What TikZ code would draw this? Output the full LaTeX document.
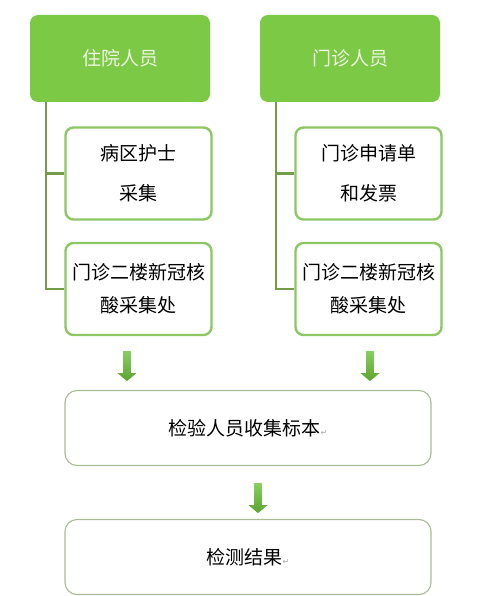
\documentclass[tikz,border=0pt]{standalone}
\usepackage{fontspec}
\setmainfont{Noto Sans CJK SC}
\newfontfamily\symfont{DejaVu Sans}
\usetikzlibrary{shapes.arrows}
\definecolor{headgreen}{HTML}{7BC944}
\definecolor{headtext}{HTML}{EEF8E4}
\definecolor{childedge}{HTML}{8DC763}
\definecolor{trunkgreen}{HTML}{729C48}
\definecolor{bigedge}{HTML}{A9BC93}
\definecolor{arrowgreen}{HTML}{6CC13A}
\newcommand{\parmark}{{\symfont\fontsize{8}{8}\selectfont\color{gray!70}↵}}
\tikzset{
  headbox/.style={fill=headgreen, rounded corners=8pt, minimum width=180pt,
    minimum height=87pt, text=headtext, font=\fontsize{19}{23}\selectfont},
  childbox/.style={draw=childedge, line width=2.4pt, fill=white, rounded corners=8pt,
    minimum width=146pt, minimum height=92pt, align=center,
    font=\fontsize{19}{23}\selectfont},
  bigbox/.style={draw=bigedge, line width=1.1pt, fill=white, rounded corners=12pt,
    minimum width=366pt, minimum height=75pt, font=\fontsize{19}{23}\selectfont},
  trunk/.style={draw=trunkgreen, line width=2.2pt},
  downarrow/.style={single arrow, shape border rotate=270, minimum width=19pt,
    minimum height=30pt, single arrow head extend=5.5pt, single arrow tip angle=100,
    inner sep=3.5pt, top color=arrowgreen!80!white, bottom color=arrowgreen!85!black,
    shading angle=0}
}
\begin{document}
\begin{tikzpicture}[x=1pt,y=-1pt]
  \useasboundingbox[fill=white] (0,0) rectangle (497,596);
  % top row
  \node[headbox] (hosp) at (120,58.5) {住院人员};
  \node[headbox] (clinic) at (350,58.5) {门诊人员};
  % children
  \node[childbox] (nurse) at (138.5,173.5) {病区护士\\[17pt]采集};
  \node[childbox] (siteL) at (138.5,289) {门诊二楼新冠核\\[10pt]酸采集处};
  \node[childbox] (form) at (368.5,173.5) {门诊申请单\\[17pt]和发票};
  \node[childbox] (siteR) at (368.5,289) {门诊二楼新冠核\\[10pt]酸采集处};
  % trunk lines
  \draw[trunk] ([xshift=16pt]hosp.south west) |- (nurse.west);
  \draw[trunk] ([xshift=16pt]hosp.south west) |- (siteL.west);
  \draw[trunk] ([xshift=16pt]clinic.south west) |- (form.west);
  \draw[trunk] ([xshift=16pt]clinic.south west) |- (siteR.west);
  % arrows
  \node[downarrow] (arrL) at (127,364.5) {};
  \node[downarrow] (arrR) at (370,364.5) {};
  \node[downarrow] (arrM) at (258,496.5) {};
  % bottom boxes
  \node[bigbox] (collect) at (248,428) {检验人员收集标本\parmark};
  \node[bigbox] (result) at (248,557) {检测结果\parmark};
\end{tikzpicture}
\end{document}
